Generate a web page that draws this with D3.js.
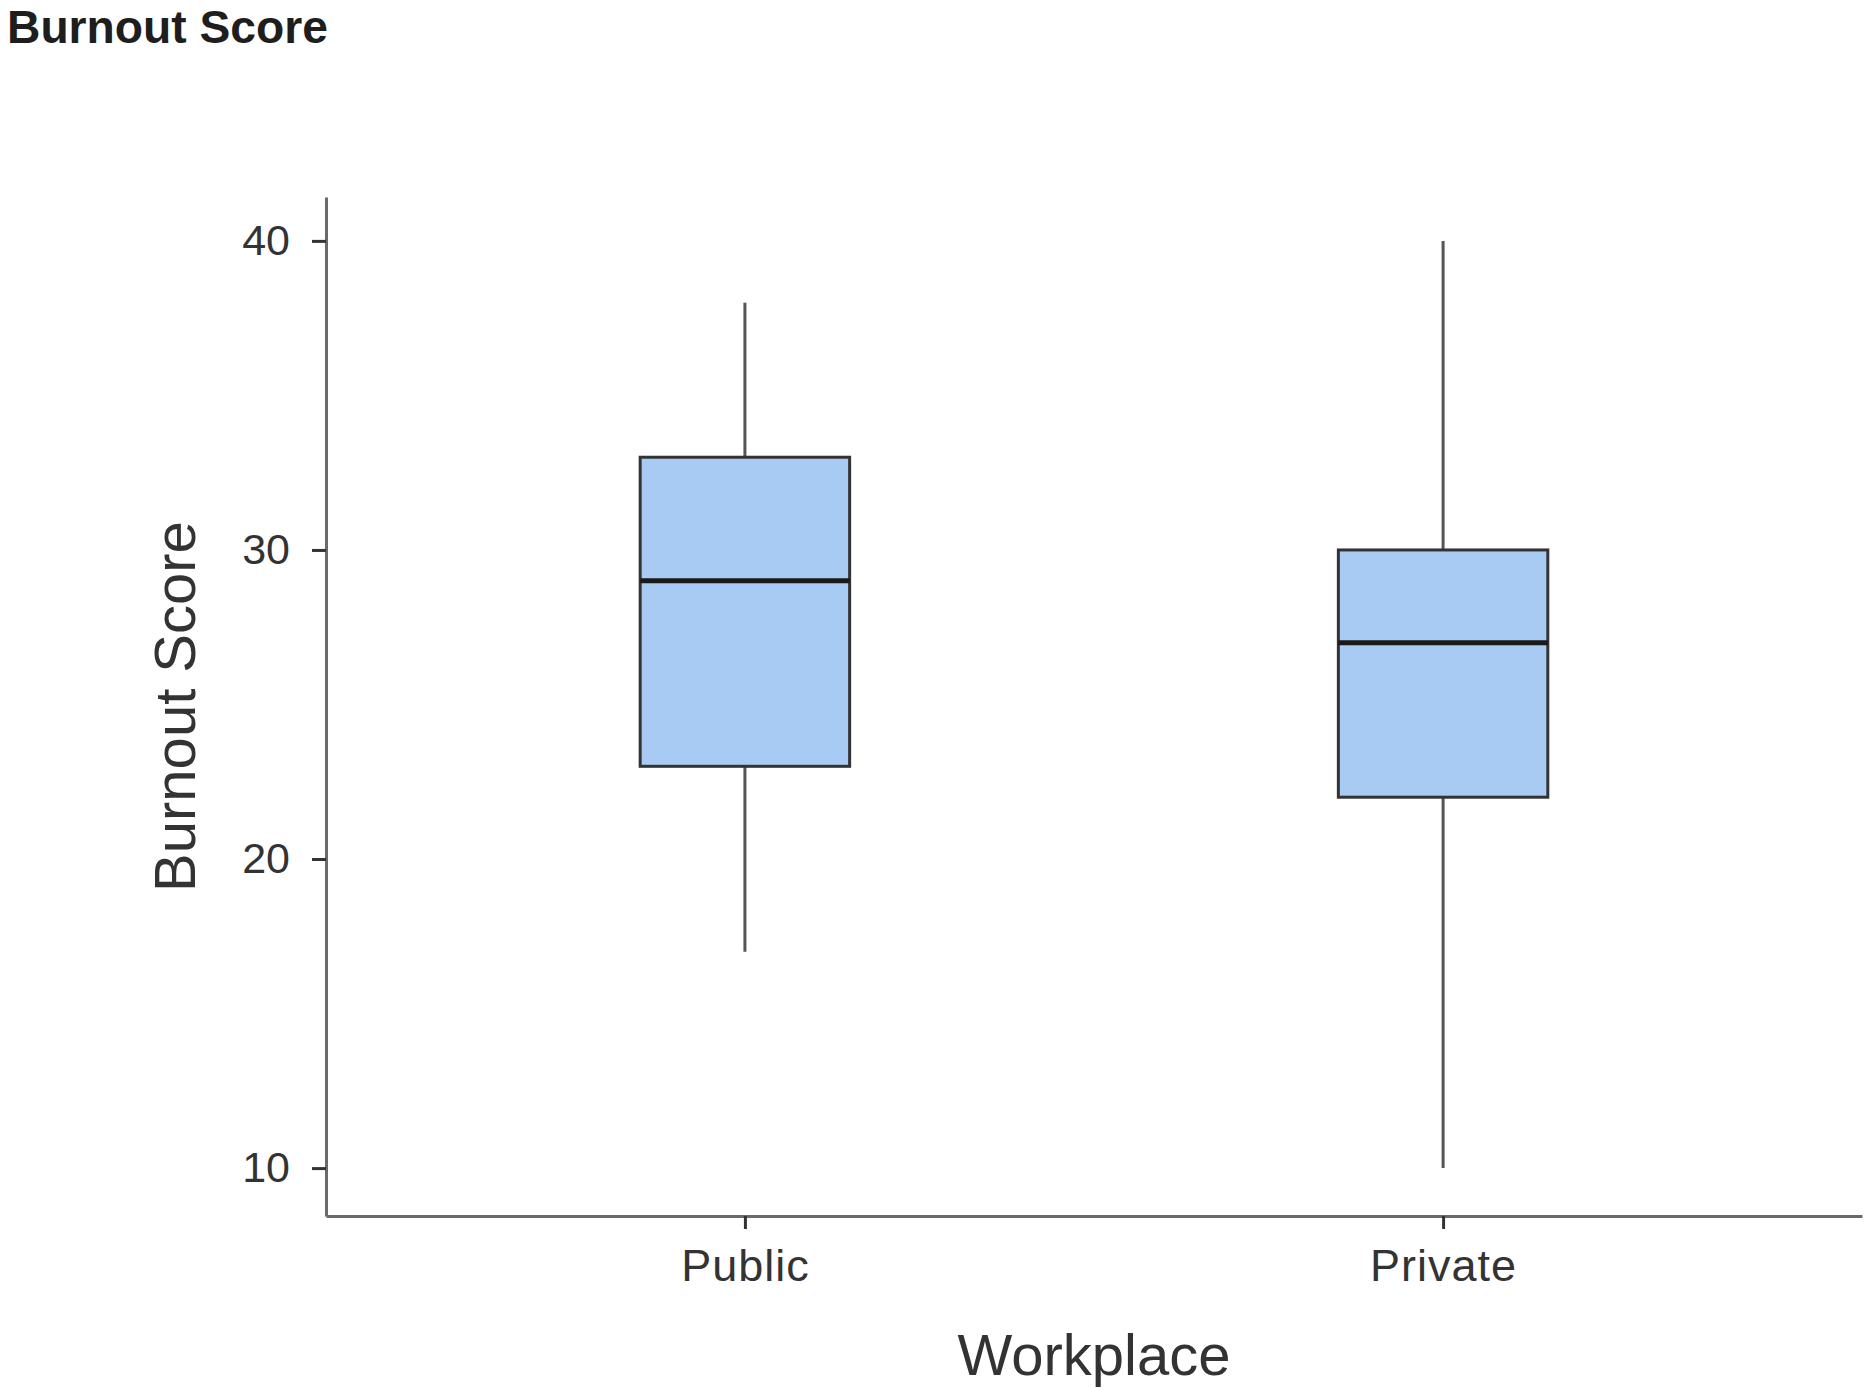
<!DOCTYPE html>
<html>
<head>
<meta charset="utf-8">
<script src="https://cdn.jsdelivr.net/npm/d3@7"></script>
<style>
  html, body { margin: 0; padding: 0; background: #fff; }
  svg { display: block; }
</style>
</head>
<body>
<script>
const categories = ["Public", "Private"];
const whiskerLow = [17, 10];
const q1 = [23, 22];
const median = [29, 27];
const q3 = [33, 30];
const whiskerHigh = [38, 40];
const yTicks = [10, 20, 30, 40];
const yDomain = [8.45, 41.42];
const chartTitle = "Burnout Score";
const xTitle = "Workplace";
const yTitle = "Burnout Score";

(function () {
const W = 1866, H = 1390;
const mLeft = 326, mRight = 1862, mTop = 197, mBottom = 1216;

const svg = d3.select("body").append("svg").attr("width", W).attr("height", H);

const x = d3.scalePoint().domain(categories).range([mLeft, mRight]).padding(0.6);
const y = d3.scaleLinear().domain(yDomain).range([mBottom, mTop]);

const sans = "'Liberation Sans', Arial, sans-serif";

// title
svg.append("text")
  .attr("x", 7).attr("y", 43)
  .attr("font-family", sans)
  .attr("font-weight", 700)
  .attr("font-size", 47)
  .attr("textLength", 321)
  .attr("lengthAdjust", "spacingAndGlyphs")
  .attr("fill", "#1e1e1e")
  .text(chartTitle);

// y axis
const yAxis = svg.append("g")
  .attr("transform", `translate(${mLeft},0)`)
  .call(d3.axisLeft(y).tickValues(yTicks).tickSize(14).tickPadding(22).tickSizeOuter(0));
yAxis.select(".domain").attr("stroke", "#6a6a6a").attr("stroke-width", 3);
yAxis.selectAll(".tick line").attr("stroke", "#333").attr("stroke-width", 3);
yAxis.selectAll(".tick text")
  .attr("font-family", sans).attr("font-size", 43).attr("fill", "#333");

// x axis
const xAxis = svg.append("g")
  .attr("transform", `translate(0,${mBottom})`)
  .call(d3.axisBottom(x).tickSize(13).tickPadding(20).tickSizeOuter(0));
xAxis.select(".domain").attr("stroke", "#6a6a6a").attr("stroke-width", 3);
xAxis.selectAll(".tick line").attr("stroke", "#333").attr("stroke-width", 3);
xAxis.selectAll(".tick text")
  .attr("font-family", sans).attr("font-size", 45).attr("fill", "#333")
  .attr("letter-spacing", 1);

// axis titles
svg.append("text")
  .attr("transform", `translate(195,${(mTop + mBottom) / 2}) rotate(-90)`)
  .attr("text-anchor", "middle")
  .attr("font-family", sans).attr("font-size", 58).attr("fill", "#333")
  .text(yTitle);
svg.append("text")
  .attr("x", (mLeft + mRight) / 2).attr("y", 1375)
  .attr("text-anchor", "middle")
  .attr("font-family", sans).attr("font-size", 58).attr("fill", "#333")
  .text(xTitle);

// boxes
const boxW = 0.3 * x.step();
const data = categories.map((c, i) => ({
  c, lo: whiskerLow[i], q1: q1[i], med: median[i], q3: q3[i], hi: whiskerHigh[i]
}));
const g = svg.append("g");
const b = g.selectAll("g.box").data(data).join("g").attr("class", "box");
b.append("line")
  .attr("x1", d => x(d.c)).attr("x2", d => x(d.c))
  .attr("y1", d => y(d.hi)).attr("y2", d => y(d.q3))
  .attr("stroke", "#555").attr("stroke-width", 3);
b.append("line")
  .attr("x1", d => x(d.c)).attr("x2", d => x(d.c))
  .attr("y1", d => y(d.q1)).attr("y2", d => y(d.lo))
  .attr("stroke", "#555").attr("stroke-width", 3);
b.append("rect")
  .attr("x", d => x(d.c) - boxW / 2).attr("width", boxW)
  .attr("y", d => y(d.q3)).attr("height", d => y(d.q1) - y(d.q3))
  .attr("fill", "#a7cbf2").attr("stroke", "#333").attr("stroke-width", 3);
b.append("line")
  .attr("x1", d => x(d.c) - boxW / 2).attr("x2", d => x(d.c) + boxW / 2)
  .attr("y1", d => y(d.med)).attr("y2", d => y(d.med))
  .attr("stroke", "#1a1a1a").attr("stroke-width", 5);
})();
</script>
</body>
</html>
